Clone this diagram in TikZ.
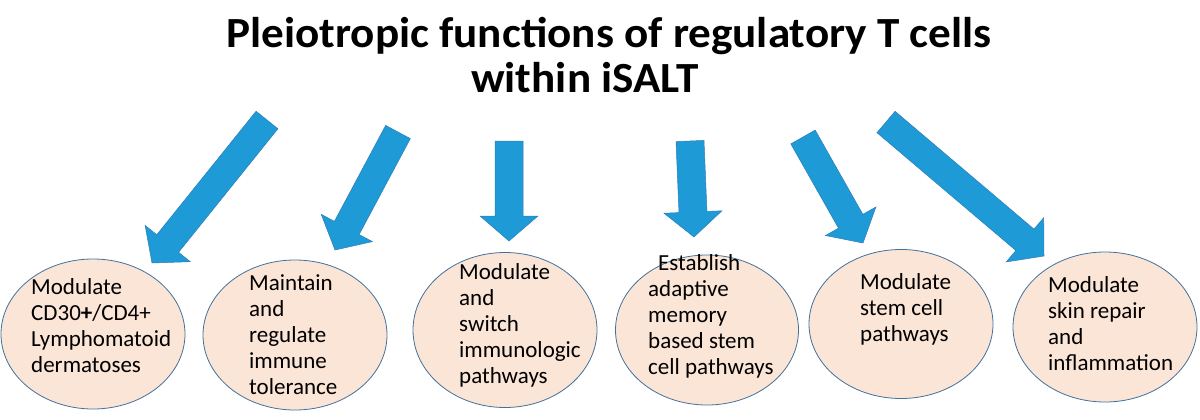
\documentclass[tikz,border=0pt]{standalone}
\usepackage{fontspec}
\setmainfont{Carlito}
\usetikzlibrary{calc,shapes.geometric}
\definecolor{arrblue}{HTML}{1E9AD6}
\definecolor{arredge}{HTML}{2E7DB8}
\definecolor{ellfill}{HTML}{FBE5D6}
\definecolor{elledge}{HTML}{41719C}
\newcommand\blockarrow[2]{%
  \coordinate (H) at ($(#2)!25pt!(#1)$);
  \filldraw[barrow] ($(#1)!14pt!90:(#2)$) -- ($(H)!14pt!90:(#2)$) -- ($(H)!29pt!90:(#2)$)
    -- (#2) -- ($(H)!29pt!-90:(#2)$) -- ($(H)!14pt!-90:(#2)$) -- ($(#1)!14pt!-90:(#2)$) -- cycle;}
\begin{document}
\begin{tikzpicture}[x=1pt,y=-1pt,
  barrow/.style={fill=arrblue,draw=arredge,line width=0.5pt,line join=miter},
  ell/.style={ellipse,draw=elledge,fill=ellfill,line width=0.8pt,inner sep=0pt},
  lbl/.style={anchor=north west,inner sep=0pt,align=left,font=\fontsize{23}{26}\selectfont},
  ttl/.style={inner sep=0pt,font=\fontsize{43}{48}\selectfont\bfseries}]
\useasboundingbox (0,0) rectangle (1200,420);
\node[ttl,xscale=1.05] (t1) at (609,36) {Pleiotropic functions of regulatory T cells};
\node[ttl,xscale=1.05] (t2) at (585,78) {within iSALT};
% ellipses
\foreach \n/\cx/\cy/\w/\h in {e1/93/334/184/150,e2/295/335/184/150,e3/505/330/184/155,e4/707/330/183/150,e5/901/324/184/149,e6/1105/327/184/150}{
  \node[ell,minimum width=\w pt,minimum height=\h pt] (\n) at (\cx,\cy) {};
}
% labels
\node[lbl] (l1) at (31,278) {Modulate\\CD30{\bfseries+}/CD4+\\Lymphomatoid\\dermatoses};
\node[lbl] (l2) at (249,274) {Maintain\\and\\regulate\\immune\\tolerance};
\node[lbl] (l3) at (459,263) {Modulate\\and\\switch\\immunologic\\pathways};
\node[lbl] (l4) at (648,254) {\hspace{10pt}Establish\\adaptive\\memory\\based stem\\cell pathways};
\node[lbl] (l5) at (860,273) {Modulate\\stem cell\\pathways};
\node[lbl] (l6) at (1048,276) {Modulate\\skin repair\\and\\inflammation};
% arrows
\foreach \i/\ax/\ay/\bx/\by in {1/267/120/152/263,2/398/132/335/250,3/509/141/509/241,4/690/141/694/237,5/803/137/863/243,6/886/122/1044/256}{
  \coordinate (a\i) at (\ax,\ay);
  \coordinate (b\i) at (\bx,\by);
  \blockarrow{a\i}{b\i}
}
\end{tikzpicture}
\end{document}
